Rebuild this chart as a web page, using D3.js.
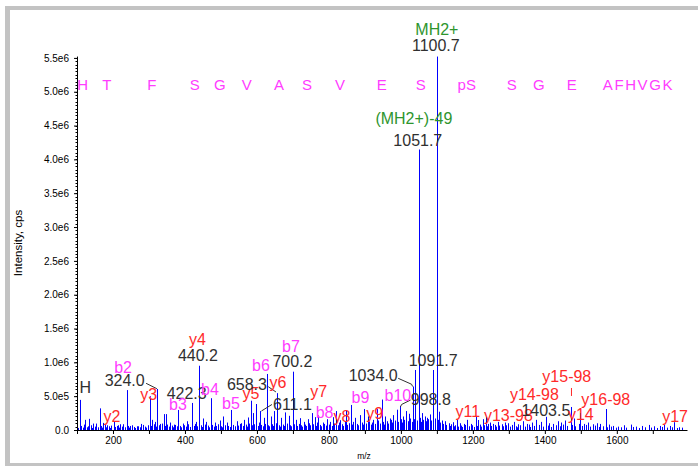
<!DOCTYPE html>
<html>
<head>
<meta charset="utf-8">
<script src="https://cdn.jsdelivr.net/npm/d3@7"></script>
<style>
  body { margin: 0; background: #fff; }
  svg { display: block; }
</style>
</head>
<body>
<svg id="chart" width="698" height="466"></svg>
<script>
// MS/MS product-ion spectrum of HTFSGVASVESpSSGEAFHVGK (m/z, intensity in cps)
const peaks = [
  [110.1, 445e3], [125, 150e3], [136, 165e3], [147, 95e3], [164, 320e3], [175, 105e3],
  [186, 70e3], [204.1, 120e3], [213, 60e3], [222, 85e3], [239.1, 590e3], [250, 60e3],
  [272, 55e3], [286, 75e3], [303.2, 500e3], [310, 150e3], [318, 120e3], [324.0, 606e3],
  [333, 90e3], [342, 235e3], [348, 235e3], [360, 110e3], [370, 80e3], [383.2, 296e3],
  [395, 95e3], [408, 130e3], [422.3, 400e3], [432, 120e3], [440.2, 950e3], [452, 170e3],
  [461, 120e3], [473.2, 470e3], [485, 110e3], [498, 140e3], [508, 200e3], [518, 110e3],
  [530.2, 296e3], [545, 130e3], [558, 100e3], [566, 150e3], [576, 185e3], [585, 433e3],
  [590, 250e3], [599, 384e3], [611.1, 280e3], [620, 180e3], [629.3, 828e3], [640, 200e3],
  [650, 280e3], [658.3, 545e3], [668, 180e3], [680, 260e3], [690, 210e3], [700.2, 862e3],
  [710, 150e3], [720, 175e3], [731, 120e3], [743, 160e3], [755, 250e3], [762, 190e3],
  [771, 220e3], [785, 110e3], [797, 160e3], [812, 190e3], [822, 280e3], [833, 145e3],
  [850, 295e3], [862, 370e3], [875, 180e3], [888, 220e3], [900, 310e3], [910, 200e3],
  [925, 150e3], [934, 310e3], [948, 450e3], [958, 200e3], [970, 170e3], [980, 220e3],
  [990, 300e3], [998.8, 355e3], [1008, 200e3], [1016, 280e3], [1024, 240e3], [1034.0, 643e3],
  [1041.6, 887e3], [1051.7, 4146e3], [1060, 250e3], [1068, 200e3], [1074, 180e3], [1082, 230e3],
  [1091.7, 887e3], [1100.7, 5520e3], [1108, 270e3], [1116, 140e3], [1124, 130e3], [1134, 100e3],
  [1145, 115e3], [1156, 150e3], [1165, 100e3], [1176, 90e3], [1186, 150e3], [1196, 90e3],
  [1210, 200e3], [1215, 148e3], [1229, 160e3], [1238, 190e3], [1248, 110e3], [1258, 90e3],
  [1270, 120e3], [1282, 85e3], [1290, 110e3], [1300, 100e3], [1315, 120e3], [1328, 85e3],
  [1340, 130e3], [1352, 90e3], [1366, 110e3], [1378, 150e3], [1392, 120e3], [1403.5, 195e3],
  [1414, 100e3], [1425, 90e3], [1438, 130e3], [1447, 110e3], [1458, 140e3], [1474, 340e3],
  [1482, 170e3], [1500, 250e3], [1510, 90e3], [1522, 110e3], [1534, 85e3], [1545, 100e3],
  [1556, 90e3], [1571, 310e3], [1580, 80e3], [1592, 60e3], [1605, 50e3], [1620, 70e3],
  [1640, 80e3], [1655, 50e3], [1672, 60e3], [1690, 75e3], [1705, 55e3], [1720, 60e3],
  [1732, 75e3], [1748, 60e3], [1761, 115e3], [1775, 40e3]
];

// low-level chemical noise along the baseline
const noise = [
  [102,45],[105,30],[113,60],[118,35],[121,80],[129,40],[132,55],[140,70],[143,30],[151,50],
  [155,95],[159,40],[168,60],[171,35],[179,75],[182,40],[190,55],[194,30],[197,65],[208,45],
  [216,70],[219,35],[226,50],[230,85],[234,40],[243,60],[247,35],[255,70],[259,45],[263,30],
  [268,55],[276,40],[280,90],[290,50],[294,35],[298,70],[306,60],[314,85],[321,50],[328,70],
  [337,95],[345,60],[352,80],[356,50],[364,65],[367,40],[374,75],[378,55],[388,60],[391,40],
  [399,70],[403,50],[411,85],[416,45],[426,60],[429,90],[436,55],[445,70],[448,45],[456,80],
  [465,65],[468,40],[477,75],[481,50],[489,60],[493,85],[502,55],[505,40],[512,70],[522,60],
  [526,45],[535,75],[540,55],[549,65],[553,90],[562,60],[570,80],[573,50],[580,95],[587,70],
  [594,85],[603,60],[606,110],[614,75],[617,55],[624,90],[633,70],[636,55],[644,85],[647,60],
  [654,100],[662,70],[665,50],[673,80],[676,60],[684,95],[694,70],[697,55],[704,85],[714,60],
  [717,90],[724,70],[727,50],[735,80],[739,60],[747,100],[750,70],[758,85],[765,60],[768,110],
  [776,75],[780,55],[789,90],[793,65],[801,80],[805,120],[809,60],[816,95],[826,70],[829,110],
  [837,85],[841,60],[845,130],[853,75],[857,100],[866,80],[869,120],[879,90],[883,70],[892,110],
  [896,80],[904,95],[914,130],[918,80],[921,110],[929,90],[938,140],[942,95],[952,120],[955,80],
  [962,130],[966,95],[974,150],[977,110],[985,140],[994,120],[1002,160],[1005,110],[1011,150],[1020,130],
  [1028,170],[1031,120],[1038,160],[1046,140],[1055,180],[1058,120],[1064,150],[1071,130],[1078,160],[1086,140],
  [1095,170],[1104,150],[1111,110],[1119,90],[1128,75],[1137,60],[1140,85],[1149,55],[1153,70],[1160,50],
  [1168,65],[1172,45],[1180,75],[1190,55],[1200,70],[1204,45],[1212,60],[1222,80],[1225,50],[1233,70],
  [1240,55],[1244,90],[1252,60],[1262,75],[1266,50],[1275,65],[1286,55],[1294,70],[1305,50],[1310,75],
  [1320,55],[1324,40],[1333,70],[1345,50],[1356,80],[1360,45],[1371,60],[1384,75],[1397,50],[1409,65],
  [1419,45],[1431,70],[1443,55],[1452,80],[1463,60],[1476,75],[1486,55],[1495,90],[1505,60],[1515,75],
  [1528,50],[1540,65],[1551,45],[1562,55],[1575,40],[1585,50],[1598,35],[1612,40],[1628,35],[1647,45],
  [1663,30],[1680,40],[1697,35],[1712,30],[1727,45],[1741,35],[1755,40],[1768,30],[1783,35]
];

// peptide sequence written across the top, each residue centred on its fragment interval
const seqResidues = ["H", "T", "F", "S", "G", "V", "A", "S", "V", "E", "S", "pS", "S", "G", "E"];
const seqMz       = [116, 183, 308, 427.5, 497, 572, 661, 739, 831, 947, 1055, 1183, 1308, 1383, 1475];
const seqTail = "AFHVGK";
const seqTailMz = 1561;
const seqLevel = 5.03e6;

// x tick values (m/z) and y tick values (cps)
const xTicks = d3.range(100, 1800, 100);
const xTickLabels = [200, 400, 600, 800, 1000, 1200, 1400, 1600];
const yTicks = d3.range(0, 5.5e6 + 1, 0.5e6);
const yMinorTicks = d3.range(0, 5.5e6 + 1, 0.05e6);

// peak annotations: text, ion type, anchor m/z and baseline level (cps)
const annotations = [
  { text: "MH2+", kind: "prec", mz: 1100, level: 5.839e6 },
  { text: "1100.7", kind: "mass", mz: 1097, level: 5.595e6 },
  { text: "(MH2+)-49", kind: "prec", mz: 1036, level: 4.516e6 },
  { text: "1051.7", kind: "mass", mz: 1047, level: 4.198e6 },
  { text: "H", kind: "mass", mz: 123, level: 0.547e6 },
  { text: "b2", kind: "b", mz: 228, level: 0.843e6 },
  { text: "324.0", kind: "mass", mz: 232.5, level: 0.643e6 },
  { text: "y3", kind: "y", mz: 299, level: 0.443e6 },
  { text: "y2", kind: "y", mz: 197, level: 0.118e6 },
  { text: "422.3", kind: "mass", mz: 404.7, level: 0.458e6 },
  { text: "b3", kind: "b", mz: 380.6, level: 0.296e6 },
  { text: "y4", kind: "y", mz: 434.7, level: 1.256e6 },
  { text: "440.2", kind: "mass", mz: 436, level: 1.027e6 },
  { text: "b4", kind: "b", mz: 469.4, level: 0.517e6 },
  { text: "b5", kind: "b", mz: 527.8, level: 0.310e6 },
  { text: "y5", kind: "y", mz: 583.3, level: 0.458e6 },
  { text: "658.3", kind: "mass", mz: 572.2, level: 0.584e6 },
  { text: "y6", kind: "y", mz: 658.3, level: 0.621e6 },
  { text: "611.1", kind: "mass", mz: 698.6, level: 0.296e6 },
  { text: "b6", kind: "b", mz: 611, level: 0.865e6 },
  { text: "b7", kind: "b", mz: 694.4, level: 1.160e6 },
  { text: "700.2", kind: "mass", mz: 698.6, level: 0.936e6 },
  { text: "y7", kind: "y", mz: 771.4, level: 0.488e6 },
  { text: "b8", kind: "b", mz: 788, level: 0.177e6 },
  { text: "y8", kind: "y", mz: 836, level: 0.118e6 },
  { text: "b9", kind: "b", mz: 887.5, level: 0.399e6 },
  { text: "y9", kind: "y", mz: 927, level: 0.163e6 },
  { text: "b10", kind: "b", mz: 991.7, level: 0.429e6 },
  { text: "1034.0", kind: "mass", mz: 923, level: 0.717e6 },
  { text: "998.8", kind: "mass", mz: 1083, level: 0.370e6 },
  { text: "1091.7", kind: "mass", mz: 1089.7, level: 0.939e6 },
  { text: "y11", kind: "y", mz: 1186, level: 0.192e6 },
  { text: "y13-98", kind: "y", mz: 1298.6, level: 0.133e6 },
  { text: "y14-98", kind: "y", mz: 1370.8, level: 0.443e6 },
  { text: "1403.5", kind: "mass", mz: 1402.8, level: 0.200e6 },
  { text: "y15-98", kind: "y", mz: 1461, level: 0.710e6 },
  { text: "y14", kind: "y", mz: 1500, level: 0.148e6 },
  { text: "y16-98", kind: "y", mz: 1569.4, level: 0.370e6 },
  { text: "y17", kind: "y", mz: 1762, level: 0.118e6 }
];

// connector lines from labels to their peaks, in (m/z, cps)
const leaders = [
  { kind: "mass", pts: [[292, 0.69e6], [322, 0.61e6]] },
  { kind: "mass", pts: [[631.4, 0.64e6], [652.8, 0.562e6]] },
  { kind: "mass", pts: [[612.5, 0.281e6], [641.7, 0.377e6]] },
  { kind: "mass", pts: [[992.5, 0.764e6], [1029.7, 0.676e6], [1032.5, 0.643e6]] },
  { kind: "mass", pts: [[1026.9, 0.443e6], [1001.9, 0.377e6], [998.6, 0.34e6]] },
  { kind: "y", pts: [[1474, 0.621e6], [1474, 0.503e6]] }
];

const colors = { mass: "#303030", prec: "#2e952e", b: "#ff3cff", y: "#ff2a2a", peak: "#0000ff" };

const svg = d3.select("#chart");
const W = 698, H = 466;

// panel frame
svg.append("rect").attr("x", 5).attr("y", 6).attr("width", W - 5).attr("height", H - 6).attr("fill", "#c3c3c3");
svg.append("rect").attr("x", 10).attr("y", 10).attr("width", W - 10).attr("height", 453).attr("fill", "#ffffff");

const x = d3.scaleLinear().domain([100, 1795]).range([77, 687]);
const y = d3.scaleLinear().domain([0, 5.5e6]).range([430, 57.9]);

const axisFont = "'Liberation Sans', Arial, sans-serif";

// spectrum sticks
const sticks = svg.append("g").attr("stroke", colors.peak).attr("stroke-width", 1);
const px = v => Math.floor(x(v)) + 0.5;
sticks.selectAll("line.noise").data(noise).join("line").attr("class", "noise")
  .attr("x1", d => px(d[0])).attr("x2", d => px(d[0]))
  .attr("y1", y(0)).attr("y2", d => y(d[1] * 1e3));
sticks.selectAll("line.peak").data(peaks).join("line").attr("class", "peak")
  .attr("x1", d => px(d[0])).attr("x2", d => px(d[0]))
  .attr("y1", y(0)).attr("y2", d => y(Math.min(d[1], 5.52e6)));

// y axis
const yAxis = d3.axisLeft(y).tickValues(yTicks).tickSize(3).tickPadding(5).tickSizeOuter(0)
  .tickFormat(d => d === 0 ? "0.0" : d3.format(".1e")(d).replace("e+", "e"));
const gy = svg.append("g").attr("transform", "translate(77,0)").call(yAxis);
gy.select(".domain").attr("d", `M0.5,${y(0)}V${y(5.52e6)}`);
gy.selectAll("text").attr("font-family", axisFont).attr("font-size", 10).attr("fill", "#000");
gy.selectAll(".minor").data(yMinorTicks).join("line").attr("class", "minor")
  .attr("x1", -1.5).attr("x2", 0.5).attr("y1", d => Math.round(y(d)) + 0.5).attr("y2", d => Math.round(y(d)) + 0.5)
  .attr("stroke", "#000");

// x axis
const xAxis = d3.axisBottom(x).tickValues(xTicks).tickSize(4).tickPadding(3).tickSizeOuter(0)
  .tickFormat(d => xTickLabels.includes(d) ? d : "");
const gx = svg.append("g").attr("transform", "translate(0,430)").call(xAxis);
gx.selectAll("text").attr("font-family", axisFont).attr("font-size", 10).attr("fill", "#000");

// axis titles
svg.append("text").attr("transform", `translate(22,${243}) rotate(-90)`)
  .attr("text-anchor", "middle").attr("font-family", axisFont).attr("font-size", 11.5)
  .attr("fill", "#000").text("Intensity, cps");
svg.append("text").attr("x", 364).attr("y", 459).attr("text-anchor", "middle")
  .attr("font-family", axisFont).attr("font-size", 8.5).attr("fill", "#000").text("m/z");

// peptide sequence
const seq = svg.append("g").attr("font-family", axisFont).attr("font-size", 15)
  .attr("fill", colors.b).attr("text-anchor", "middle");
seq.selectAll("text.res").data(seqResidues).join("text").attr("class", "res")
  .attr("x", (d, i) => x(seqMz[i])).attr("y", y(seqLevel)).text(d => d);
seq.append("text").attr("x", x(seqTailMz)).attr("y", y(seqLevel)).attr("text-anchor", "start")
  .attr("letter-spacing", 1.6).text(seqTail);

// leader lines
const line = d3.line().x(d => x(d[0])).y(d => y(d[1]));
svg.append("g").attr("fill", "none").selectAll("path").data(leaders).join("path")
  .attr("d", d => line(d.pts)).attr("stroke", d => colors[d.kind]).attr("stroke-width", 1);

// peak labels
svg.append("g").attr("font-family", axisFont).attr("font-size", 16).attr("text-anchor", "middle")
  .selectAll("text").data(annotations).join("text")
  .attr("x", d => x(d.mz)).attr("y", d => y(d.level))
  .attr("fill", d => colors[d.kind]).text(d => d.text);
</script>
</body>
</html>
